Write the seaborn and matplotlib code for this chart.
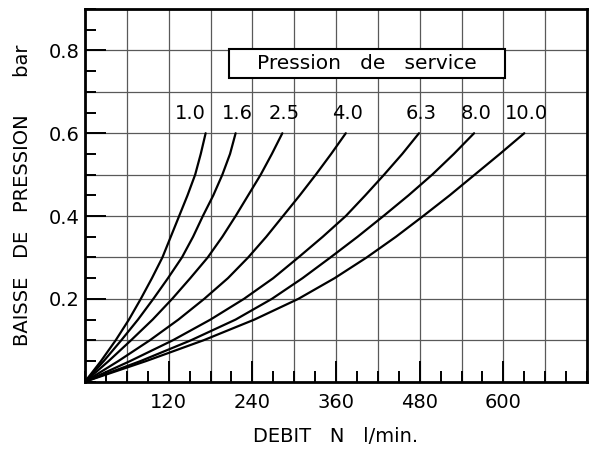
import pandas as pd
import seaborn as sns
import matplotlib.pyplot as plt
from matplotlib.patches import Rectangle
from matplotlib.ticker import MultipleLocator

# ------------------------------------------------
# Data
# ------------------------------------------------
pressions = ["1.0", "1.6", "2.5", "4.0", "6.3", "8.0", "10.0"]
baisse = [0.0, 0.05, 0.10, 0.15, 0.20, 0.25, 0.30, 0.35, 0.40, 0.45, 0.50, 0.55, 0.60]
debit_10 = [0, 23, 44, 63, 80, 96, 111, 123, 135, 147, 158, 166, 173]
debit_16 = [0, 27, 52, 76, 98, 119, 139, 155, 169, 184, 197, 208, 216]
debit_25 = [0, 34, 66, 97, 125, 151, 176, 197, 216, 234, 252, 268, 283]
debit_40 = [0, 48, 93, 134, 171, 205, 234, 260, 284, 308, 331, 353, 374]
debit_63 = [0, 65, 126, 180, 228, 270, 306, 341, 374, 402, 429, 455, 479]
debit_80 = [0, 80, 152, 216, 268, 312, 352, 391, 428, 464, 498, 529, 558]
debit_100 = [0, 88, 170, 243, 306, 358, 404, 446, 485, 523, 559, 595, 630]
debits = [debit_10, debit_16, debit_25, debit_40, debit_63, debit_80, debit_100]

rows = []
for p, d in zip(pressions, debits):
    for x, y in zip(d, baisse):
        rows.append({"debit": x, "baisse": y, "pression": p})
data = pd.DataFrame(rows)

# ------------------------------------------------
# Plot
# ------------------------------------------------
sns.set_theme(style="ticks")
plt.rcParams["font.family"] = ["DejaVu Sans"]

fig = plt.figure(figsize=(5.97, 4.54), dpi=100)
ax = fig.add_axes([0.1424, 0.1593, 0.8409, 0.8209])

sns.lineplot(data=data, x="debit", y="baisse", hue="pression",
             palette=["black"] * len(pressions), sort=False,
             estimator=None, linewidth=1.6, legend=False, ax=ax)

ax.set_xlim(0, 720)
ax.set_ylim(0, 0.9)

# grid
for gx in range(60, 720, 60):
    ax.axvline(gx, color="0.35", lw=0.9, zorder=0)
for gy in [0.1, 0.2, 0.3, 0.4, 0.5, 0.6, 0.7, 0.8]:
    ax.axhline(gy, color="0.35", lw=0.9, zorder=0)

ax.xaxis.set_minor_locator(MultipleLocator(30))
ax.yaxis.set_minor_locator(MultipleLocator(0.05))
ax.set_xticks([120, 240, 360, 480, 600])
ax.set_yticks([0.2, 0.4, 0.6, 0.8])
ax.set_yticklabels(["0.2", "0.4", "0.6", "0.8"])
ax.tick_params(which="both", direction="in", colors="black", labelsize=14)
ax.tick_params(which="major", length=15, width=1.4)
ax.tick_params(which="minor", length=8, width=1.4)
ax.tick_params(axis="x", which="major", pad=8)
ax.tick_params(axis="y", which="major", pad=4)

for s in ax.spines.values():
    s.set_color("black")
    s.set_linewidth(2)

ax.set_xlabel("DEBIT   N   l/min.", fontsize=14, labelpad=11, color="black")
ax.set_ylabel("BAISSE   DE   PRESSION      bar", fontsize=14, labelpad=12, color="black")

# curve labels
for p, d in zip(pressions, debits):
    dx = -15 if p == "1.0" else 2
    ax.annotate(p, (d[-1], baisse[-1]), xytext=(dx, 20), textcoords="offset pixels",
                ha="center", va="center", fontsize=14, color="black")

# title box
ax.add_patch(Rectangle((206, 0.734), 397, 0.07, fill=True, facecolor="white",
                       edgecolor="black", lw=1.5, zorder=3))
ax.text(404, 0.769, "Pression   de   service", ha="center", va="center",
        fontsize=14.5, color="black", zorder=4)

plt.savefig("out.png", dpi=100)
plt.close(fig)
